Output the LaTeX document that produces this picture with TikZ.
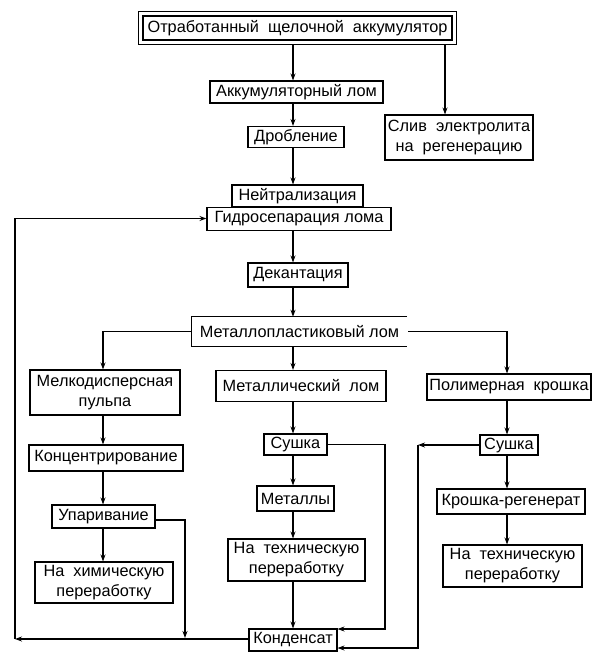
\documentclass[tikz,border=0pt]{standalone}
\usepackage{fontspec}
\setmainfont{Liberation Sans}
\usetikzlibrary{arrows.meta,fit,calc}
\begin{document}
\begin{tikzpicture}[x=1pt,y=-1pt,
  txt/.style={inner sep=0pt, align=center, font=\fontsize{16.3}{20}\selectfont},
  box/.style={txt, draw, line width=1.1pt},
  arr/.style={-{Stealth[length=7pt,width=5pt]}, line width=1.1pt},
  ln/.style={line width=1.1pt}]
\useasboundingbox[fill=white] (0,0) rectangle (592,652);
% nodes
\node[box, minimum width=309pt, minimum height=24pt] (top) at (297.5,28) {Отработанный\ \ щелочной\ \ аккумулятор};
\node[draw, ln, fit=(top), inner sep=4pt] (topout) {};
\node[box, minimum width=173pt, minimum height=22pt] (akk) at (296.5,92) {Аккумуляторный лом};
\node[box, minimum width=148pt, minimum height=45pt] (sliv) at (459,137.5) {Слив\ \ электролита\\на\ \ регенерацию};
\node[box, minimum width=96pt, minimum height=21pt] (drob) at (296,137) {Дробление};
\node[box, minimum width=131pt, minimum height=22pt] (neut) at (297.5,196) {Нейтрализация};
\node[box, minimum width=184pt, minimum height=23pt, anchor=north] (gidro) at (299,207) {Гидросепарация лома};
\node[box, minimum width=100pt, minimum height=24pt] (dek) at (298,275) {Декантация};
\node[txt, minimum width=215pt, minimum height=29pt] (mp) at (299.5,331.5) {Металлопластиковый лом};
\node[box, minimum width=150pt, minimum height=45pt] (melk) at (105,392.5) {Мелкодисперсная\\пульпа};
\node[box, minimum width=170pt, minimum height=31pt] (mlom) at (301,386) {Металлический\ \ лом};
\node[box, minimum width=164pt, minimum height=26pt] (polim) at (509,387) {Полимерная\ \ крошка};
\node[box, minimum width=154pt, minimum height=26pt] (konc) at (106,458) {Концентрирование};
\node[box, minimum width=103pt, minimum height=23pt] (upar) at (103.5,516.5) {Упаривание};
\node[box, minimum width=138pt, minimum height=41pt] (chem) at (104,582.5) {На\ \ химическую\\переработку};
\node[box, minimum width=63pt, minimum height=21pt] (sushM) at (295.5,444.5) {Сушка};
\node[box, minimum width=77pt, minimum height=25pt] (metally) at (295.5,498.5) {Металлы};
\node[box, minimum width=137pt, minimum height=42pt] (techM) at (296.5,560) {На\ \ техническую\\переработку};
\node[box, minimum width=88pt, minimum height=22pt] (kond) at (293,640) {Конденсат};
\node[box, minimum width=58pt, minimum height=20pt] (sushR) at (509,445) {Сушка};
\node[box, minimum width=148pt, minimum height=25pt] (krosh) at (511,501.5) {Крошка-регенерат};
\node[box, minimum width=139pt, minimum height=42pt] (techR) at (512.5,566) {На\ \ техническую\\переработку};
% open box of mp
\draw[ln] (mp.north east) -- (mp.north west) -- (mp.south west) -- (mp.south east);
% coordinates
\coordinate (cx) at (293,0);
\coordinate (cs) at (445,0);
\coordinate (cl) at (103,0);
\coordinate (cr) at (507,0);
\coordinate (mpR) at (408,331.5);
\coordinate (c185) at (185,520);
\coordinate (c185b) at (185,638);
\coordinate (c385) at (385,444.5);
\coordinate (c385b) at (385,629);
\coordinate (c418) at (418,445);
\coordinate (c418b) at (418,648);
\coordinate (cL) at (15,639);
\coordinate (cLt) at (15,218.5);
% connectors
\draw[arr] (topout.south -| cx) -- (akk.north -| cx);
\draw[arr] (topout.south -| cs) -- (sliv.north -| cs);
\draw[arr] (akk.south -| cx) -- (drob.north -| cx);
\draw[arr] (drob.south -| cx) -- (neut.north -| cx);
\draw[arr] (gidro.south -| cx) -- (dek.north -| cx);
\draw[arr] (dek.south -| cx) -- (mp.north -| cx);
\draw[arr] (mp.west) -| (melk.north -| cl);
\draw[arr] (mp.south -| cx) -- (mlom.north -| cx);
\draw[arr] (mpR) -| (polim.north -| cr);
\draw[arr] (melk.south -| cl) -- (konc.north -| cl);
\draw[arr] (konc.south -| cl) -- (upar.north -| cl);
\draw[arr] (upar.south -| cl) -- (chem.north -| cl);
\draw[arr] (upar.east |- c185) -- (c185) -- (c185b);
\draw[arr] (mlom.south -| cx) -- (sushM.north -| cx);
\draw[arr] (sushM.south -| cx) -- (metally.north -| cx);
\draw[arr] (metally.south -| cx) -- (techM.north -| cx);
\draw[arr] (techM.south -| cx) -- (kond.north -| cx);
\draw[arr] (sushM.east |- c385) -- (c385) -- (c385b) -- (kond.east |- c385b);
\draw[arr] (polim.south -| cr) -- (sushR.north -| cr);
\draw[arr] (sushR.south -| cr) -- (krosh.north -| cr);
\draw[arr] (krosh.south -| cr) -- (techR.north -| cr);
\draw[arr] (sushR.west |- c418) -- (c418);
\draw[arr] (c418) -- (c418b) -- (kond.east |- c418b);
\draw[arr] (kond.west |- cL) -- (cL);
\draw[arr] (cL) -- (cLt) -- (gidro.west |- cLt);
\end{tikzpicture}
\end{document}
